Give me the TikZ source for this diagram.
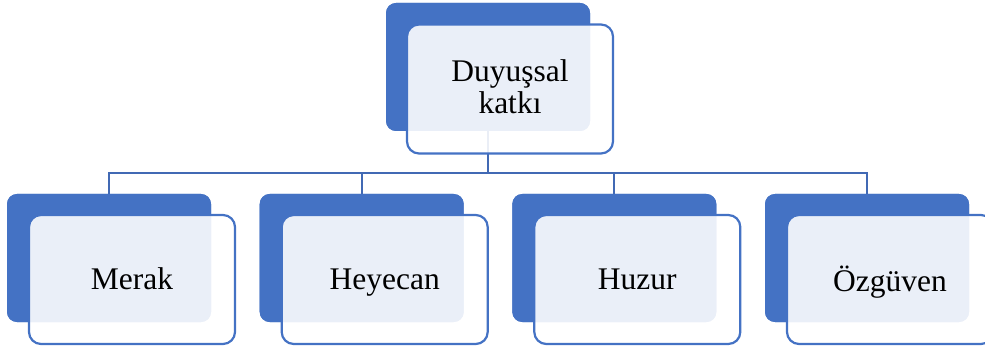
\documentclass[tikz,border=0pt]{standalone}
\usepackage{fontspec}
\setmainfont{Liberation Serif}
\definecolor{sblue}{HTML}{4472C4}
\definecolor{lineblue}{HTML}{4169B4}
\begin{document}
\begin{tikzpicture}[x=1pt,y=-1pt,
  backbox/.style={fill=sblue,draw=none,rounded corners=10pt,minimum width=204pt,minimum height=128pt,inner sep=0pt},
  frontbox/.style={fill=white,fill opacity=0.89,draw=sblue,line width=2.2pt,rounded corners=12pt,minimum width=206pt,minimum height=129pt,inner sep=0pt},
  txt/.style={inner sep=0pt,align=center,font=\fontsize{31.5}{31}\selectfont},
  conn/.style={draw=lineblue,line width=2.2pt}]
\useasboundingbox (0,0) rectangle (985,347);
\clip (0,0) rectangle (985,347);
\node[backbox] (tb) at (488,67) {};
\node[backbox] (b1) at (109,258) {};
\node[backbox] (b2) at (361.7,258) {};
\node[backbox] (b3) at (614.3,258) {};
\node[backbox] (b4) at (867,258) {};
\coordinate (bus) at (488,173);
\draw[conn] (tb.south) -- (tb.south |- bus);
\draw[conn] (b1.north) |- (bus) -| (b4.north);
\draw[conn] (b2.north) -- (b2.north |- bus);
\draw[conn] (b3.north) -- (b3.north |- bus);
\node[backbox] at (tb) {};
\node[backbox] at (b1) {};
\node[backbox] at (b2) {};
\node[backbox] at (b3) {};
\node[backbox] at (b4) {};
\node[frontbox] (tf) at (510,89) {};
\node[frontbox] (f1) at (132,279.5) {};
\node[frontbox] (f2) at (384.7,279.5) {};
\node[frontbox] (f3) at (637.3,279.5) {};
\node[frontbox] (f4) at (890,279.5) {};
\node[txt] (tt) at ([yshift=-2pt]tf.center) {\strut Duyuşsal\\\strut katkı};
\node[txt] (t1) at ([yshift=-4pt]f1.center) {\strut Merak};
\node[txt] (t2) at ([yshift=-4pt]f2.center) {\strut Heyecan};
\node[txt] (t3) at ([yshift=-4pt]f3.center) {\strut Huzur};
\node[txt] (t4) at ([yshift=-4pt]f4.center) {\strut Özgüven};
\end{tikzpicture}
\end{document}
